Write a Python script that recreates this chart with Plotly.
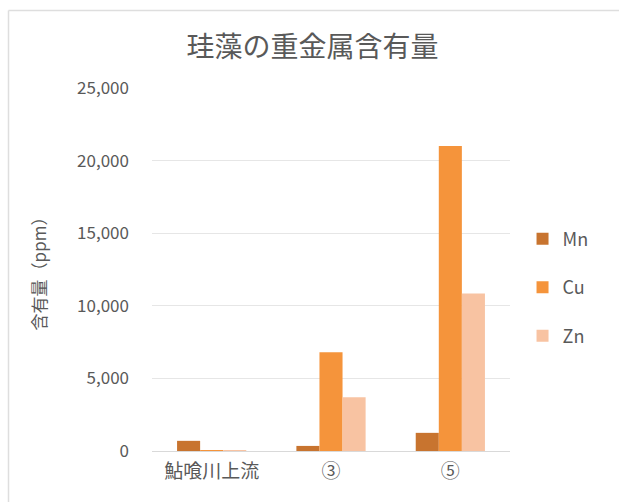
import plotly.graph_objects as go

# Heavy-metal content of diatoms at each sampling site (ppm)
categories = ["鮎喰川上流", "③", "⑤"]
mn_values = [700, 350, 1250]
cu_values = [50, 6800, 21000]
zn_values = [30, 3700, 10850]
series_names = ["Mn", "Cu", "Zn"]
series_colors = ["#C8742F", "#F5943B", "#F8C3A2"]
y_ticks = [0, 5000, 10000, 15000, 20000, 25000]
y_tick_labels = ["0", "5,000", "10,000", "15,000", "20,000", "25,000"]

FONT = "Noto Sans CJK JP"
GRAY = "#595959"
W, H = 619, 502
ML, MR, MT, MB = 152, 109, 88, 51
PW, PH = W - ML - MR, H - MT - MB


def px_to_paper_x(px):
    return (px - ML) / PW


def px_to_paper_y(py):
    return (H - MB - py) / PH


fig = go.Figure()
for name, vals, col in zip(series_names, [mn_values, cu_values, zn_values], series_colors):
    fig.add_trace(go.Bar(
        x=categories, y=vals, name=name, marker=dict(color=col, line=dict(width=0)),
        legendgroup=name,
    ))

# Chart-area frame along the top and left edges
fx = px_to_paper_x(8.5)
fy = px_to_paper_y(10.5)
fig.add_shape(type="line", xref="paper", yref="paper",
              x0=fx, x1=px_to_paper_x(W + 5), y0=fy, y1=fy,
              line=dict(color="#DEDEDE", width=1.5), layer="below")
fig.add_shape(type="line", xref="paper", yref="paper",
              x0=fx, x1=fx, y0=px_to_paper_y(H + 5), y1=fy,
              line=dict(color="#DEDEDE", width=1.5), layer="below")

fig.update_layout(
    width=W, height=H,
    margin=dict(l=ML, r=MR, t=MT, b=MB),
    paper_bgcolor="white", plot_bgcolor="white",
    barmode="group", bargap=0.42, bargroupgap=0,
    font=dict(family=FONT, color=GRAY),
    title=dict(text="珪藻の重金属含有量", x=0.505, xanchor="center", y=0.905, yanchor="middle",
               font=dict(size=28, color=GRAY, family=FONT)),
    legend=dict(x=1.035, xanchor="left", y=0.45, yanchor="middle",
                font=dict(size=18, color=GRAY, family=FONT),
                traceorder="grouped", tracegroupgap=22, itemwidth=30),
    showlegend=True,
)
fig.update_xaxes(showline=True, linecolor="#D9D9D9", linewidth=1, ticks="",
                 tickfont=dict(size=19, color=GRAY, family=FONT), ticklabelstandoff=3,
                 showgrid=False)
fig.update_yaxes(range=[0, 25000], tickvals=y_ticks, ticktext=y_tick_labels,
                 showgrid=True, gridcolor="#E6E6E6", gridwidth=1, zeroline=False,
                 tickfont=dict(size=17, color=GRAY, family=FONT), ticklabelstandoff=22,
                 title=dict(text="含有量（ppm）", font=dict(size=17, color=GRAY, family=FONT), standoff=26))

fig.write_html("out.html")
